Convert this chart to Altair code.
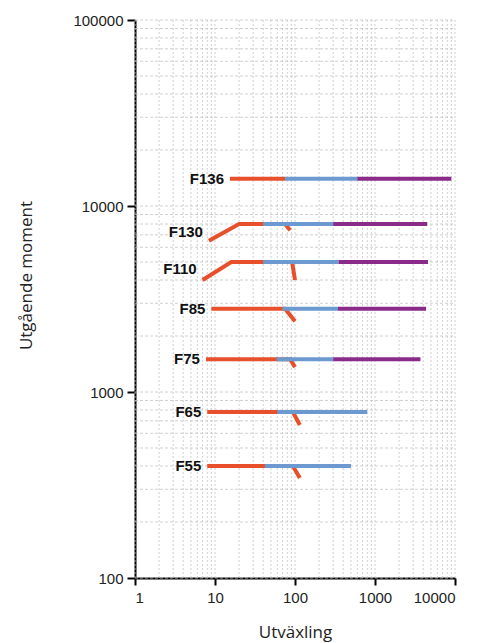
import altair as alt
import pandas as pd

# ---- data ----
names = ["F136", "F130", "F110", "F85", "F75", "F65", "F55"]

red_x = {
    "F136": [15.4, 75],
    "F130": [8.4, 20, 75, 87],
    "F110": [7, 16, 92, 100],
    "F85": [9, 75, 100],
    "F75": [7.7, 87, 100],
    "F65": [8, 94, 115],
    "F55": [8, 94, 115],
}
red_y = {
    "F136": [14000, 14000],
    "F130": [6500, 8000, 8000, 7400],
    "F110": [4000, 5000, 5000, 4000],
    "F85": [2800, 2800, 2400],
    "F75": [1500, 1500, 1360],
    "F65": [780, 780, 665],
    "F55": [400, 400, 345],
}
level = {"F136": 14000, "F130": 8000, "F110": 5000, "F85": 2800,
         "F75": 1500, "F65": 780, "F55": 400}
blue_range = {"F136": [75, 600], "F130": [40, 300], "F110": [40, 350],
              "F85": [70, 350], "F75": [59, 300], "F65": [60, 800],
              "F55": [42, 500]}
purple_range = {"F136": [600, 9000], "F130": [300, 4500], "F110": [350, 4600],
                "F85": [345, 4350], "F75": [300, 3700]}

label_x = [15.4, 8.4, 7, 9, 7.7, 8, 8]
label_y = [14000, 7250, 4590, 2800, 1500, 780, 400]

x_ticks = [1, 10, 100, 1000, 10000]
y_ticks = [100, 1000, 10000, 100000]
x_grid = [d * k for d in [1, 10, 100, 1000] for k in range(1, 10)] + [10000]
y_grid = [d * k for d in [100, 1000, 10000] for k in range(1, 10)] + [100000]

# ---- build tables ----
rows = []
for n in names:
    for i, (xv, yv) in enumerate(zip(red_x[n], red_y[n])):
        rows.append({"seg": n + "-r", "kind": "red", "i": i, "x": xv, "y": yv})
    for i, xv in enumerate(blue_range[n]):
        rows.append({"seg": n + "-b", "kind": "blue", "i": i, "x": xv, "y": level[n]})
    if n in purple_range:
        for i, xv in enumerate(purple_range[n]):
            rows.append({"seg": n + "-p", "kind": "purple", "i": i, "x": xv, "y": level[n]})
df = pd.DataFrame(rows)
labels = pd.DataFrame({"name": names, "x": label_x, "y": label_y})
xg = pd.DataFrame({"x": x_grid})
yg = pd.DataFrame({"y": y_grid})

xs = alt.Scale(type="log", domain=[1, 10000])
ys = alt.Scale(type="log", domain=[100, 100000])

colors = {"red": "#E8502C", "blue": "#6C9AD0", "purple": "#8A2B8A"}

xgrid = alt.Chart(xg).mark_rule(color="#c4c4c4", strokeWidth=0.8, strokeDash=[2, 2]).encode(
    x=alt.X("x:Q", scale=xs,
            axis=alt.Axis(values=x_ticks, format="d", title="Utväxling",
                          grid=False, domainColor="black", domainWidth=2,
                          tickColor="black", tickWidth=2, tickSize=7,
                          labelPadding=5, labelFontSize=15, labelColor="#222",
                          labelFont="Liberation Sans",
                          titleFont="Open Sans", titleFontSize=17,
                          titleFontWeight="normal", titleColor="#222",
                          titleY=46)),
    y=alt.value(0), y2=alt.value(558),
)
ygrid = alt.Chart(yg).mark_rule(color="#c4c4c4", strokeWidth=0.8, strokeDash=[3, 2]).encode(
    y=alt.Y("y:Q", scale=ys,
            axis=alt.Axis(values=y_ticks, format="d", title="Utgående moment",
                          grid=False, domainColor="black", domainWidth=2,
                          tickColor="black", tickWidth=2, tickSize=8,
                          labelPadding=4, labelFontSize=15, labelColor="#222",
                          labelFont="Liberation Sans",
                          titleFont="Open Sans", titleFontSize=17,
                          titleFontWeight="normal", titleColor="#222",
                          titleX=-100, titleY=255)),
    x=alt.value(0), x2=alt.value(320),
)

layers = [xgrid, ygrid]
for k in ["red", "blue", "purple"]:
    layers.append(
        alt.Chart(df[df.kind == k]).mark_line(color=colors[k], strokeWidth=4,
                                             strokeCap="butt", strokeJoin="miter").encode(
            x=alt.X("x:Q", scale=xs),
            y=alt.Y("y:Q", scale=ys),
            detail="seg:N",
            order="i:Q",
        )
    )
layers.append(
    alt.Chart(labels).mark_text(align="right", baseline="middle", dx=-6,
                                fontSize=15, fontWeight="bold", font="Liberation Sans",
                                color="#111").encode(
        x=alt.X("x:Q", scale=xs),
        y=alt.Y("y:Q", scale=ys),
        text="name:N",
    )
)

chart = alt.layer(*layers).properties(
    width=320, height=558,
    autosize=alt.AutoSizeParams(type="none"),
    padding={"left": 127, "top": 12, "right": 18, "bottom": 65},
).configure_view(stroke=None)

chart.save("out.html", embed_options={"renderer": "svg", "actions": False})
